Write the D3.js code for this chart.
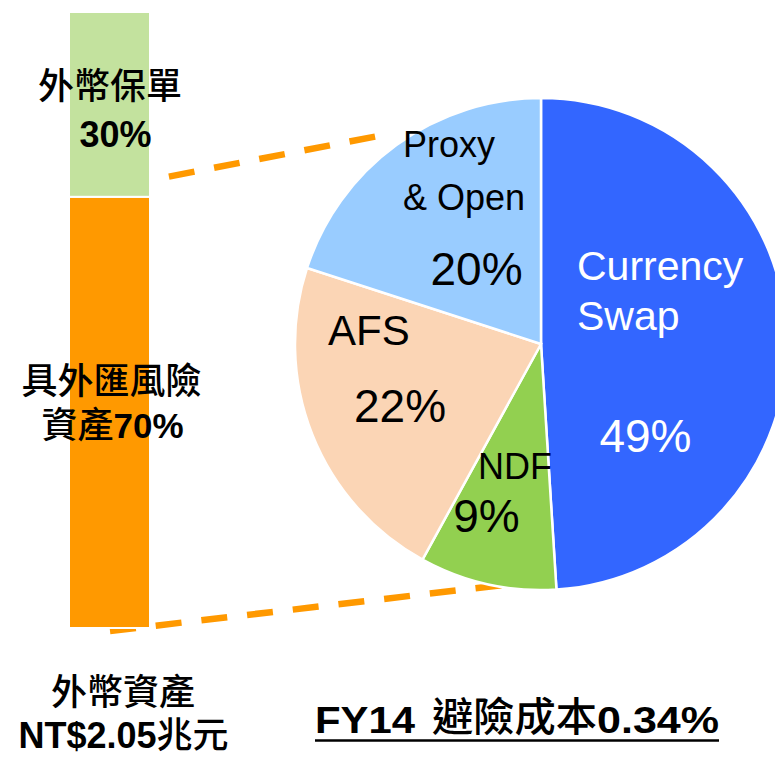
<!DOCTYPE html>
<html>
<head>
<meta charset="utf-8">
<script src="https://cdn.jsdelivr.net/npm/d3@7"></script>
<style>
  html, body { margin: 0; padding: 0; background: #fff; }
  svg { display: block; }
  .lat { font-family: "Liberation Sans", Arial, sans-serif; }
  .cjk { font-family: "Noto Sans CJK TC", "Noto Sans CJK SC", sans-serif; }
  .mix { font-family: "Liberation Sans", "Noto Sans CJK TC", "Noto Sans CJK SC", sans-serif; }
</style>
</head>
<body>
<svg id="chart" width="775" height="757"></svg>
<script>
// ---- data ----
const barCategories = ["具外匯風險資產", "外幣保單"];
const barValues = [70, 30];
const barColors = ["#FF9900", "#C3E29E"];

const pieCategories = ["Currency Swap", "NDF", "AFS", "Proxy & Open"];
const pieValues = [49, 9, 22, 20];
const pieColors = ["#3366FF", "#92D050", "#FBD5B5", "#99CCFF"];

const totalLabel = ["外幣資產", "NT$2.05", "兆元"];
const titleParts = ["FY14", "避險成本", "0.34%"];

// ---- layout ----
const svg = d3.select("#chart");

// bar
const xBar = d3.scaleBand().domain(["FX"]).range([69, 150]).padding(0);
const yBar = d3.scaleLinear().domain([0, 100]).range([628, 12]);

// pie
const cx = 541, cy = 344, R = 246;

// leader lines (drawn first, behind the bar)
const leaders = [
  {p: [[110, 188], [378, 136]], offset: 32},
  {p: [[110, 631], [503, 585]], offset: 0}
];
svg.append("g").selectAll("path").data(leaders).join("path")
  .attr("d", d => d3.line()(d.p))
  .attr("fill", "none")
  .attr("stroke", "#FF9900")
  .attr("stroke-width", 6.5)
  .attr("stroke-dasharray", "26,20")
  .attr("stroke-dashoffset", d => d.offset);

// stacked bar
const stackData = [Object.fromEntries(barCategories.map((c, i) => [c, barValues[i]]))];
const series = d3.stack().keys(barCategories)(stackData);
svg.append("g").selectAll("rect").data(series).join("rect")
  .attr("x", xBar("FX"))
  .attr("width", xBar.bandwidth())
  .attr("y", d => yBar(d[0][1]))
  .attr("height", d => yBar(d[0][0]) - yBar(d[0][1]))
  .attr("fill", (d, i) => barColors[i])
  .attr("stroke", "#fff")
  .attr("stroke-width", 2);

// pie
const pie = d3.pie().sort(null).value(d => d)(pieValues);
const arc = d3.arc().innerRadius(0).outerRadius(R);
svg.append("g").attr("transform", `translate(${cx},${cy})`)
  .selectAll("path").data(pie).join("path")
  .attr("d", arc)
  .attr("fill", (d, i) => pieColors[i])
  .attr("stroke", "#fff")
  .attr("stroke-width", 2.5);

// pie labels (offsets relative to pie centre)
const pl = svg.append("g").attr("transform", `translate(${cx},${cy})`).attr("class", "lat");
function multi(g, x, y, lines, size, fill, lh) {
  const tx = g.append("text").attr("x", x).attr("y", y)
    .attr("font-size", size).attr("fill", fill);
  lines.forEach((s, i) => tx.append("tspan").attr("x", x).attr("dy", i ? lh : 0).text(s));
  return tx;
}
function t(g, x, y, txt, size, fill, anchor) {
  return g.append("text").attr("x", x).attr("y", y).text(txt)
    .attr("font-size", size).attr("fill", fill).attr("text-anchor", anchor || "start");
}
// Currency Swap
multi(pl, 36, -64, ["Currency", "Swap"], 41, "#fff", 50);
t(pl, 104.5, 108, pieValues[0] + "%", 46, "#fff", "middle");
// NDF
t(pl, -63, 135, "NDF", 36, "#000");
t(pl, -54.5, 188, pieValues[1] + "%", 46, "#000", "middle");
// AFS
t(pl, -213, 1, "AFS", 42, "#000");
t(pl, -141, 78, pieValues[2] + "%", 46, "#000", "middle");
// Proxy & Open
multi(pl, -138, -187, ["Proxy", "& Open"], 36, "#000", 53);
t(pl, -64.5, -59, pieValues[3] + "%", 46, "#000", "middle");

// bar labels
const bl = svg.append("g").attr("class", "mix");
const tA = bl.append("text").attr("text-anchor", "middle").attr("fill", "#000");
tA.append("tspan").attr("x", 110).attr("y", 99)
  .attr("font-size", 36).attr("font-weight", 500).text(barCategories[1]);
tA.append("tspan").attr("x", 115.5).attr("y", 147)
  .attr("font-size", 36).attr("font-weight", "bold").text(barValues[1] + "%");

const tB = bl.append("text").attr("text-anchor", "middle").attr("fill", "#000");
tB.append("tspan").attr("x", 111.5).attr("y", 394)
  .attr("font-size", 36).attr("font-weight", 500).text(barCategories[0].slice(0, 5));
tB.append("tspan").attr("x", 112.5).attr("y", 438)
  .attr("font-size", 36).attr("font-weight", 500).text(barCategories[0].slice(5));
tB.append("tspan").attr("font-size", 35).attr("font-weight", "bold")
  .text(barValues[0] + "%");

// total label under the bar
const tC = bl.append("text").attr("text-anchor", "middle").attr("fill", "#000");
tC.append("tspan").attr("x", 123).attr("y", 705)
  .attr("font-size", 36).attr("font-weight", 500).text(totalLabel[0]);
tC.append("tspan").attr("x", 123.5).attr("y", 748)
  .attr("font-size", 36).attr("font-weight", "bold").text(totalLabel[1]);
tC.append("tspan").attr("font-size", 36).attr("font-weight", 500)
  .text(totalLabel[2]);

// title with underline
const tg = svg.append("g");
tg.append("text").attr("class", "lat").attr("x", 315).attr("y", 733)
  .attr("font-size", 36).attr("font-weight", "bold").attr("fill", "#000")
  .attr("textLength", 100).attr("lengthAdjust", "spacingAndGlyphs").text(titleParts[0]);
tg.append("text").attr("class", "cjk").attr("x", 432).attr("y", 731)
  .attr("font-size", 40).attr("font-weight", 500).attr("fill", "#000")
  .attr("textLength", 165).attr("lengthAdjust", "spacingAndGlyphs").text(titleParts[1]);
tg.append("text").attr("class", "lat").attr("x", 597).attr("y", 733)
  .attr("font-size", 36).attr("font-weight", "bold").attr("fill", "#000")
  .attr("textLength", 122).attr("lengthAdjust", "spacingAndGlyphs").text(titleParts[2]);
tg.append("line").attr("x1", 315).attr("x2", 719).attr("y1", 740.5).attr("y2", 740.5)
  .attr("stroke", "#000").attr("stroke-width", 2.5);
</script>
</body>
</html>
